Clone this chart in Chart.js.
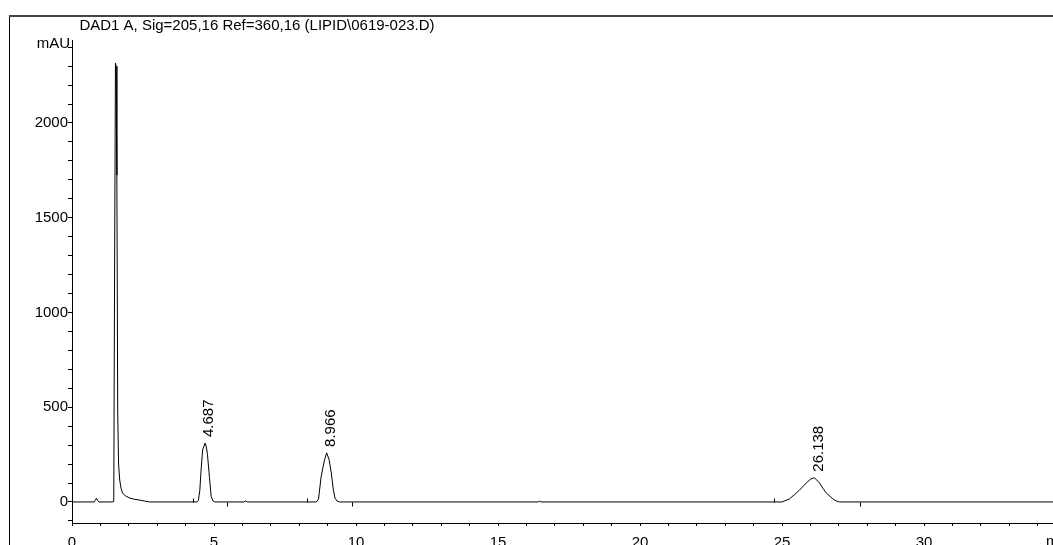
<!DOCTYPE html>
<html>
<head>
<meta charset="utf-8">
<script src="https://cdn.jsdelivr.net/npm/chart.js@4/dist/chart.umd.min.js"></script>
<style>
  html, body { margin: 0; padding: 0; background: #fff; }
  #wrap { width: 1053px; height: 545px; overflow: hidden; }
</style>
</head>
<body>
<div id="wrap"><canvas id="chrom" width="1053" height="545"></canvas></div>
<script>
// DAD1 A chromatogram, time in min, signal in mAU
const times = [
  0, 0.78, 0.82, 0.86, 0.90, 0.95,
  1.40, 1.47, 1.50, 1.53, 1.55, 1.58, 1.61, 1.64, 1.68, 1.73, 1.78, 1.88, 2.03, 2.20, 2.38, 2.55, 2.73,
  4.40, 4.45, 4.50, 4.55, 4.60, 4.687, 4.73, 4.77, 4.84, 4.90, 4.96, 5.03,
  6.05, 6.11, 6.17,
  8.60, 8.68, 8.77, 8.89, 8.966, 9.05, 9.13, 9.20, 9.26, 9.33, 9.42,
  16.40, 16.46, 16.52,
  25.00, 25.26, 25.45, 25.62, 25.85, 26.00, 26.138, 26.32, 26.45, 26.56, 26.79, 26.90, 27.02,
  34.6
];
const signal = [
  0, 0, 8, 20, 8, 0,
  0, 2, 1240, 2316, 2300, 1725, 470, 200, 116, 70, 47, 32, 21, 14, 10, 5, 0,
  0, 8, 60, 180, 275, 311, 290, 250, 130, 30, 6, 0,
  0, 5, 0,
  0, 15, 132, 222, 259, 225, 153, 65, 20, 5, 0,
  0, 4, 0,
  0, 16, 40, 63, 100, 120, 128, 100, 70, 47, 16, 6, 0,
  0
];

// integrated peaks: retention time label, start and end of integration
const peakTimes  = [4.687, 8.966, 26.138];
const peakLabels = ['4.687', '8.966', '26.138'];
const peakStart  = [4.26, 8.28, 24.73];
const peakEnd    = [5.46, 9.87, 27.73];

const xLabelEvery = 5;    // min
const yLabelEvery = 500;  // mAU

const titleText = 'DAD1 A, Sig=205,16 Ref=360,16 (LIPID\\0619-023.D)';
const FAMILY = '"Liberation Sans", Arial, sans-serif';
const FONT = '15px ' + FAMILY;

const chromDecor = {
  id: 'chromDecor',
  beforeDraw(chart) {
    const ctx = chart.ctx;
    ctx.save();
    // outer frame (only left and top are visible)
    ctx.strokeStyle = '#000';
    ctx.lineWidth = 1;
    ctx.beginPath();
    ctx.moveTo(9.5, 15);
    ctx.lineTo(9.5, 545);
    ctx.stroke();
    ctx.strokeStyle = '#444';
    ctx.lineWidth = 2;
    ctx.beginPath();
    ctx.moveTo(9, 16);
    ctx.lineTo(1053, 16);
    ctx.stroke();
    ctx.restore();
  },
  afterDraw(chart) {
    const { ctx, scales: { x, y } } = chart;
    ctx.save();
    ctx.fillStyle = '#000';
    ctx.font = FONT;

    ctx.textAlign = 'center';
    ctx.textBaseline = 'alphabetic';
    ctx.fillText(titleText, 257, 30);

    ctx.textAlign = 'right';
    ctx.fillText('mAU', 70, 48);

    ctx.textAlign = 'left';
    ctx.textBaseline = 'top';
    ctx.fillText('min', 1046, 534);

    // integration start/end marks on the baseline
    const base = Math.round(y.getPixelForValue(0)) + 0.5;
    ctx.strokeStyle = '#000';
    ctx.lineWidth = 1;
    ctx.beginPath();
    peakStart.forEach(t => {
      const px = Math.round(x.getPixelForValue(t)) + 0.5;
      ctx.moveTo(px, base);
      ctx.lineTo(px, base - 4);
    });
    peakEnd.forEach(t => {
      const px = Math.round(x.getPixelForValue(t)) + 0.5;
      ctx.moveTo(px, base);
      ctx.lineTo(px, base + 4);
    });
    ctx.stroke();

    // retention time labels, rotated
    ctx.textAlign = 'left';
    ctx.textBaseline = 'middle';
    peakTimes.forEach((t, i) => {
      const h = signal[times.indexOf(t)];
      const px = x.getPixelForValue(t) + 4;
      const py = y.getPixelForValue(h) - 6;
      ctx.save();
      ctx.translate(px, py);
      ctx.rotate(-Math.PI / 2);
      ctx.fillText(peakLabels[i], 0, 0);
      ctx.restore();
    });
    ctx.restore();
  }
};

function init() {
  const ctx = document.getElementById('chrom').getContext('2d');

  new Chart(ctx, {
    type: 'line',
    data: {
      datasets: [{
        data: times.map((t, i) => ({ x: t, y: signal[i] })),
        borderColor: '#000',
        borderWidth: 1,
        pointRadius: 0,
        tension: 0,
        fill: false
      }]
    },
    options: {
      responsive: false,
      animation: false,
      devicePixelRatio: 1,
      layout: { padding: { top: 40, left: 0, right: 0, bottom: 0 } },
      plugins: {
        legend: { display: false },
        tooltip: { enabled: false },
        title: { display: false }
      },
      scales: {
        x: {
          type: 'linear',
          min: 0,
          max: 34.54,
          afterFit: s => { s.height = 22; },
          border: { display: true, color: '#000', width: 1 },
          grid: { drawOnChartArea: false, drawTicks: true, tickLength: 3, color: '#000' },
          ticks: {
            stepSize: 1,
            includeBounds: false,
            autoSkip: false,
            maxRotation: 0,
            padding: 8,
            color: '#000',
            font: { family: FAMILY, size: 15 },
            callback: v => (Math.abs(v % xLabelEvery) < 1e-6 ? String(Math.round(v)) : '')
          }
        },
        y: {
          min: -111,
          max: 2438,
          afterFit: s => { s.width = 72; },
          border: { display: true, color: '#000', width: 1 },
          grid: { drawOnChartArea: false, drawTicks: true, tickLength: 4, color: '#000' },
          ticks: {
            stepSize: 100,
            includeBounds: false,
            autoSkip: false,
            padding: 0,
            color: '#000',
            font: { family: FAMILY, size: 15 },
            callback: v => (Math.abs(v % yLabelEvery) < 1e-6 ? String(Math.round(v)) : '')
          }
        }
      }
    },
    plugins: [chromDecor]
  });
}

document.addEventListener('DOMContentLoaded', init);
</script>
</body>
</html>
